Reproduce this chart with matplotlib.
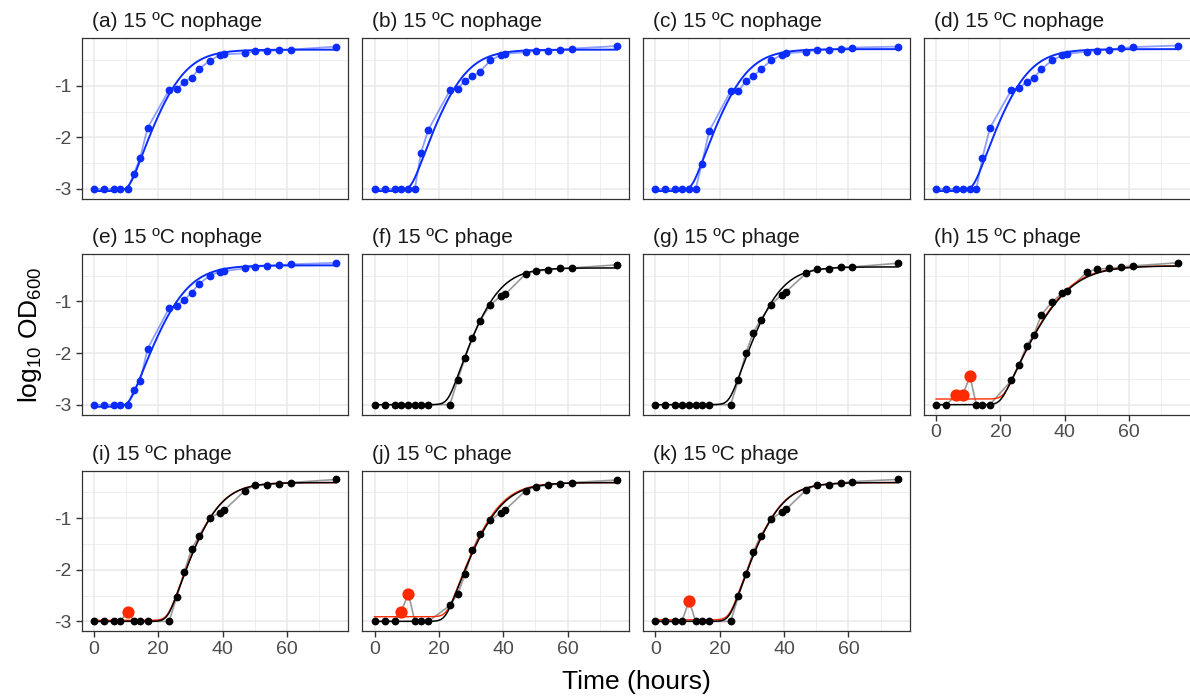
import numpy as np
import matplotlib
matplotlib.use("Agg")
import matplotlib.pyplot as plt
from matplotlib.ticker import MultipleLocator

plt.rcParams['font.family'] = ['Liberation Sans', 'DejaVu Sans']
plt.rcParams['mathtext.default'] = 'regular'

# sampling times (hours), shared by every well
time_h = [0, 3.1, 6.2, 8.2, 10.5, 12.5, 14.4, 16.7, 23.4, 25.8, 28.1, 30.4,
          32.7, 36.0, 39.2, 40.6, 46.9, 50.1, 53.8, 57.6, 61.2, 75.3]

titles = ["(a) 15 ºC nophage", "(b) 15 ºC nophage", "(c) 15 ºC nophage",
          "(d) 15 ºC nophage", "(e) 15 ºC nophage", "(f) 15 ºC phage",
          "(g) 15 ºC phage", "(h) 15 ºC phage", "(i) 15 ºC phage",
          "(j) 15 ºC phage", "(k) 15 ºC phage"]

# log10 OD600 per well
od_a = [-3.0, -3.0, -3.0, -3.0, -3.0, -2.70, -2.39, -1.82, -1.08, -1.07, -0.92,
        -0.85, -0.67, -0.52, -0.40, -0.39, -0.37, -0.33, -0.33, -0.31, -0.30, -0.24]
od_b = [-3.0, -3.0, -3.0, -3.0, -3.0, -3.0, -2.30, -1.85, -1.09, -1.06, -0.90,
        -0.82, -0.73, -0.51, -0.40, -0.38, -0.35, -0.32, -0.32, -0.30, -0.28, -0.23]
od_c = [-3.0, -3.0, -3.0, -3.0, -3.0, -3.0, -2.52, -1.88, -1.10, -1.10, -0.91,
        -0.82, -0.68, -0.51, -0.40, -0.37, -0.34, -0.31, -0.30, -0.28, -0.26, -0.24]
od_d = [-3.0, -3.0, -3.0, -3.0, -3.0, -3.0, -2.39, -1.82, -1.08, -1.05, -0.92,
        -0.85, -0.68, -0.51, -0.41, -0.38, -0.34, -0.32, -0.30, -0.27, -0.25, -0.22]
od_e = [-3.0, -3.0, -3.0, -3.0, -3.0, -2.71, -2.54, -1.92, -1.13, -1.08, -0.97,
        -0.83, -0.66, -0.50, -0.42, -0.41, -0.36, -0.33, -0.31, -0.30, -0.28, -0.25]
od_f = [-3.0, -3.0, -3.0, -3.0, -3.0, -3.0, -3.0, -3.0, -3.0, -2.52, -2.10,
        -1.70, -1.37, -1.07, -0.89, -0.86, -0.47, -0.41, -0.39, -0.36, -0.35, -0.29]
od_g = [-3.0, -3.0, -3.0, -3.0, -3.0, -3.0, -3.0, -3.0, -3.0, -2.52, -2.00,
        -1.61, -1.35, -1.06, -0.87, -0.81, -0.45, -0.37, -0.37, -0.33, -0.33, -0.26]
od_h = [-3.0, -3.0, -2.82, -2.82, -2.45, -3.0, -3.0, -3.0, -2.53, -2.23, -1.86,
        -1.64, -1.26, -1.01, -0.84, -0.80, -0.43, -0.37, -0.36, -0.33, -0.31, -0.25]
od_i = [-3.0, -3.0, -3.0, -3.0, -2.82, -3.0, -3.0, -3.0, -3.0, -2.52, -2.04,
        -1.60, -1.34, -1.00, -0.89, -0.84, -0.47, -0.36, -0.35, -0.33, -0.31, -0.25]
od_j = [-3.0, -3.0, -3.0, -2.82, -2.46, -3.0, -3.0, -3.0, -2.69, -2.47, -2.09,
        -1.62, -1.31, -1.04, -0.89, -0.84, -0.47, -0.39, -0.36, -0.33, -0.31, -0.26]
od_k = [-3.0, -3.0, -3.0, -3.0, -2.60, -3.0, -3.0, -3.0, -3.0, -2.51, -2.09,
        -1.66, -1.34, -1.02, -0.88, -0.83, -0.45, -0.36, -0.35, -0.32, -0.29, -0.25]
wells = [od_a, od_b, od_c, od_d, od_e, od_f, od_g, od_h, od_i, od_j, od_k]

# indices of points flagged as outliers (phage wells)
outliers = {7: [2, 3, 4], 8: [4], 9: [3, 4], 10: [4]}

# Baranyi fit parameters: y0, ymax, mu (log10/h), lag (h)
fit_clean = [(-3.04, -0.30, 0.19, 11.0), (-3.04, -0.30, 0.19, 11.3),
             (-3.04, -0.29, 0.19, 11.3), (-3.04, -0.29, 0.19, 11.5),
             (-3.04, -0.30, 0.18, 11.0), (-3.00, -0.35, 0.20, 22.8),
             (-3.00, -0.33, 0.20, 23.0), (-3.00, -0.31, 0.15, 20.0),
             (-3.00, -0.31, 0.20, 23.0), (-3.00, -0.31, 0.185, 22.0),
             (-3.00, -0.31, 0.20, 23.0)]
# fits with the outliers kept in
fit_all = {7: (-2.89, -0.31, 0.155, 21.0), 8: (-2.98, -0.31, 0.20, 23.0),
           9: (-2.91, -0.31, 0.19, 22.5), 10: (-2.97, -0.31, 0.20, 23.0)}


def baranyi(t, y0, ymax, mu, lag, m=1.0, v=1.0):
    A = t + np.log(np.exp(-v * t) + np.exp(-v * lag) - np.exp(-v * t - v * lag)) / v
    return y0 + mu * A - np.log(1 + (np.exp(m * mu * A) - 1) / np.exp(m * (ymax - y0))) / m


W, H = 1190, 697
fig = plt.figure(figsize=(W / 100, H / 100), dpi=100)

lefts = [81.7, 362.5, 643.3, 924.0]
tops = [38.3, 254.0, 470.7]
pw, ph = 266.5, 160.5

t = np.array(time_h)
tt = np.linspace(0, t.max(), 400)
blue = '#0a2cff'

for n, y in enumerate(wells):
    row, col = divmod(n, 4)
    ax = fig.add_axes([lefts[col] / W, 1 - (tops[row] + ph) / H, pw / W, ph / H])
    y = np.array(y)
    phage = n >= 5

    ax.set_xlim(-3.77, 79.07)
    ax.set_ylim(-3.19, -0.08)
    ax.xaxis.set_major_locator(MultipleLocator(20))
    ax.xaxis.set_minor_locator(MultipleLocator(10))
    ax.yaxis.set_major_locator(MultipleLocator(1))
    ax.yaxis.set_minor_locator(MultipleLocator(0.5))
    ax.grid(which='major', color='#EBEBEB', linewidth=1.2)
    ax.grid(which='minor', color='#EBEBEB', linewidth=0.6)
    ax.set_axisbelow(True)
    for s in ax.spines.values():
        s.set_color('#333333')
        s.set_linewidth(0.9)
    ax.tick_params(which='minor', length=0)
    ax.tick_params(which='major', length=4.5, width=1.0, color='#333333',
                   labelsize=14, labelcolor='#4D4D4D', pad=2.5)

    show_x = n >= 7
    show_y = col == 0
    ax.tick_params(axis='x', bottom=show_x, labelbottom=show_x)
    ax.tick_params(axis='y', left=show_y, labelleft=show_y)
    ax.set_yticks([-1, -2, -3])
    ax.set_yticklabels(['-1', '-2', '-3'])

    if not phage:
        ax.plot(t, y, color=blue, alpha=0.45, linewidth=1.3, zorder=2)
        ax.plot(tt, baranyi(tt, *fit_clean[n]), color=blue, linewidth=1.4, zorder=3)
        ax.plot(t, y, 'o', color=blue, markersize=5.6, markeredgewidth=0, zorder=4)
    else:
        bad = outliers.get(n, [])
        good = [i for i in range(len(t)) if i not in bad]
        ax.plot(t, y, color='#9a9a9a', linewidth=1.2, zorder=2)
        if n in fit_all:
            ax.plot(tt, baranyi(tt, *fit_all[n]), color='#ff2a00', linewidth=1.0, zorder=3)
        ax.plot(tt, baranyi(tt, *fit_clean[n]), color='black', linewidth=1.1, zorder=3)
        ax.plot(t[good], y[good], 'o', color='black', markersize=5.6,
                markeredgewidth=0, zorder=4)
        if bad:
            ax.plot(t[bad], y[bad], 'o', color='#ff2a00', markersize=8.8,
                    markeredgewidth=0, zorder=5)

    ax.text(10 / pw, 1 + 11 / ph, titles[n], transform=ax.transAxes,
            fontsize=15, color='#1A1A1A', ha='left', va='baseline')

fig.text(636 / W, 1 - 682 / H, 'Time (hours)', fontsize=19, ha='center', va='center')
fig.text(30 / W, 1 - 335 / H, 'log$_{10}$ OD$_{600}$', fontsize=19,
         rotation=90, ha='center', va='center')

fig.savefig('out.png', dpi=100, facecolor='white')
